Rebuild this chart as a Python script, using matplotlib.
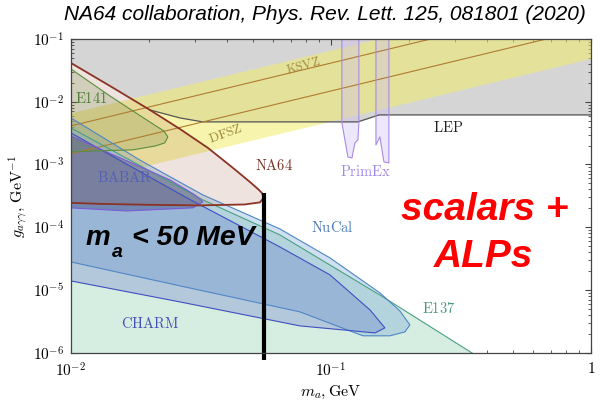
import math
import matplotlib
matplotlib.use("Agg")
import matplotlib.pyplot as plt
from matplotlib.ticker import LogLocator, FuncFormatter, NullFormatter

plt.rcParams["mathtext.fontset"] = "cm"
plt.rcParams["font.family"] = ["Liberation Sans", "DejaVu Sans"]

# ---------------- data: mass in GeV, coupling in GeV^-1 ----------------
axion_mass = [0.01, 1.0]
band_upper = [6.64e-3, 0.664]
band_lower = [4.91e-4, 0.0491]
ksvz_g = [4.12e-3, 0.412]
dfsz_g = [1.48e-3, 0.148]

lep_mass = [0.0100, 0.01413, 0.02013, 0.02298, 0.02624, 0.03219, 0.1270, 0.1531, 1.0]
lep_g = [0.0415, 0.01785, 7.40e-3, 6.39e-3, 5.52e-3, 4.77e-3, 4.77e-3, 6.16e-3, 6.16e-3]

na64_mass = [0.0100, 0.01413, 0.02013, 0.02624, 0.03365, 0.04200, 0.04880, 0.05236,
             0.05427, 0.05524, 0.05331, 0.04668, 0.03133, 0.02013, 0.01294, 0.0100]
na64_g = [0.0415, 0.01785, 7.40e-3, 3.69e-3, 1.84e-3, 8.83e-4, 5.28e-4, 4.09e-4,
          3.53e-4, 2.94e-4, 2.49e-4, 2.31e-4, 2.23e-4, 2.28e-4, 2.36e-4, 2.45e-4]

e141_mass = [0.0100, 0.01413, 0.01731, 0.02123, 0.02279, 0.02361, 0.02298, 0.02123,
             0.01731, 0.01294, 0.0100]
e141_g = [0.0333, 0.01237, 7.14e-3, 4.12e-3, 3.43e-3, 2.75e-3, 2.21e-3, 1.98e-3,
          1.71e-3, 1.65e-3, 1.59e-3]

babar_mass = [0.0100, 0.02402, 0.02999, 0.03219, 0.02946, 0.01642, 0.0100]
babar_g = [2.85e-3, 5.69e-4, 3.28e-4, 2.54e-4, 2.04e-4, 1.82e-4, 2.04e-4]

nucal_mass = [0.0100, 0.01841, 0.03219, 0.06363, 0.09912, 0.1543, 0.1841, 0.2013,
              0.1926, 0.1687, 0.1328, 0.07598, 0.02624, 0.0100]
nucal_g = [5.52e-3, 1.18e-3, 3.28e-4, 9.43e-5, 3.26e-5, 9.03e-6, 4.66e-6, 2.79e-6,
           2.16e-6, 1.87e-6, 1.87e-6, 4.50e-6, 1.17e-5, 2.81e-5]

charm_mass = [0.0100, 0.02793, 0.06363, 0.09912, 0.1413, 0.1613, 0.1477, 0.07598,
              0.02624, 0.0100]
charm_g = [3.19e-3, 2.94e-4, 4.87e-5, 1.75e-5, 4.84e-6, 2.50e-6, 2.08e-6, 2.69e-6,
           6.49e-6, 1.40e-5]

e137_mass = [0.0100, 0.03219, 0.06363, 0.1585, 0.3484, 0.384]
e137_g = [3.83e-3, 2.73e-4, 7.57e-5, 7.79e-6, 1.0e-6, 7.7e-7]

primex1_mass = [0.1102, 0.1102, 0.1132, 0.1162, 0.1205, 0.1237, 0.1270, 0.1281, 0.1281]
primex1_g = [0.1, 4.60e-3, 2.46e-3, 1.32e-3, 1.27e-3, 2.21e-3, 2.46e-3, 4.60e-3, 0.1]
primex2_mass = [0.1490, 0.1490, 0.1543, 0.1599, 0.1671, 0.1671]
primex2_g = [0.1, 2.05e-3, 2.75e-3, 1.10e-3, 1.06e-3, 0.1]

mass_cut = 0.0555
mass_cut_g = [3.5e-4, 7.7e-7]

# ---------------- figure ----------------
fig = plt.figure(figsize=(6.0, 4.01), dpi=100)
ax = fig.add_axes([0.118, 0.120, 0.867, 0.783])
ax.set_xscale("log")
ax.set_yscale("log")
ax.set_xlim(0.01, 1.0)
ax.set_ylim(1e-6, 0.1)

# LEP (grey, everything above the boundary)
ax.fill_between(lep_mass, lep_g, 0.2, color="#d5d5d5", lw=0, zorder=1)
ax.plot(lep_mass[2:], lep_g[2:], color="#555555", lw=0.9, zorder=6)

# QCD axion band
ax.fill_between(axion_mass, band_lower, band_upper, color="#f2ee6a", alpha=0.55,
                lw=0, zorder=2)
ax.plot(axion_mass, ksvz_g, color="#b07a30", lw=0.8, zorder=7)
ax.plot(axion_mass, dfsz_g, color="#b07a30", lw=0.8, zorder=7)

# beam dumps
ax.fill_between(e137_mass, e137_g, 1e-7, color="#d6ede2", lw=0, zorder=3)
ax.plot(e137_mass, e137_g, color="#4a9f82", lw=0.8, zorder=8)
ax.fill(nucal_mass, nucal_g, facecolor="#6aa2d2", alpha=0.32, lw=0, zorder=3.2)
ax.fill(nucal_mass, nucal_g, facecolor="none", edgecolor="#4f86c6", lw=0.8, zorder=8)
ax.fill(charm_mass, charm_g, facecolor="#5a6ac8", alpha=0.28, lw=0, zorder=3.4)
ax.fill(charm_mass, charm_g, facecolor="none", edgecolor="#3f4fc0", lw=0.8, zorder=8)

# BABAR
ax.fill(babar_mass, babar_g, facecolor="#3a4684", alpha=0.42, lw=0, zorder=3.6)
ax.fill(babar_mass, babar_g, facecolor="none", edgecolor="#7a5ad8", lw=0.8, zorder=8)

# E141
ax.fill(e141_mass, e141_g, facecolor="#5d8f3c", alpha=0.22, lw=0, zorder=3.8)
ax.plot(e141_mass, e141_g, color="#5a8f3f", lw=0.8, zorder=8)

# NA64
ax.fill(na64_mass, na64_g, facecolor="#a05a40", alpha=0.17, lw=0, zorder=4)
ax.plot(na64_mass, na64_g, color="#8b3325", lw=1.3, zorder=9)

# PrimEx
for pm, pg in ((primex1_mass, primex1_g), (primex2_mass, primex2_g)):
    ax.fill(pm, pg, facecolor="#cdbbf7", alpha=0.35, lw=0, zorder=5)
    ax.plot(pm, pg, color="#a88be6", lw=0.8, zorder=8)

# mass cut
ax.plot([mass_cut, mass_cut], mass_cut_g, color="black", lw=3.0, zorder=12,
        clip_on=False, solid_capstyle="butt")

# labels of the constraints
lab = dict(fontsize=10.5, ha="center", va="center", zorder=11)
ax.text(0.0780, 0.0372, r"$\mathrm{KSVZ}$", color="#9f8a3c", rotation=16, fontsize=9,
        ha="center", va="center", zorder=11)
ax.text(0.0395, 3.07e-3, r"$\mathrm{DFSZ}$", color="#9f8a3c", rotation=20, fontsize=9.5,
        ha="center", va="center", zorder=11)
ax.text(0.01194, 0.0111, r"$\mathrm{E141}$", color="#4f7f36", **lab)
ax.text(0.0604, 9.5e-4, r"$\mathrm{NA64}$", color="#7a3526", **lab)
ax.text(0.282, 3.83e-3, r"$\mathrm{LEP}$", color="#222222", **lab)
ax.text(0.1364, 7.62e-4, r"$\mathrm{PrimEx}$", color="#a08ae6", **lab)
ax.text(0.01613, 6.12e-4, r"$\mathrm{BABAR}$", color="#5560b5", **lab)
ax.text(0.101, 9.78e-5, r"$\mathrm{NuCal}$", color="#4a7ab4", **lab)
ax.text(0.2603, 5.02e-6, r"$\mathrm{E137}$", color="#4a9a7a", **lab)
ax.text(0.02013, 2.90e-6, r"$\mathrm{CHARM}$", color="#4550b8", **lab)

# annotations
big = dict(fontweight="bold", fontstyle="italic", color="black", va="baseline",
           ha="left", transform=ax.transAxes, zorder=13)
ax.text(0.029, 0.344, "m", fontsize=20, **big)
ax.text(0.079, 0.306, "a", fontsize=14, **big)
ax.text(0.117, 0.344, "< 50 MeV", fontsize=20.5, **big)

red = dict(fontweight="bold", fontstyle="italic", color="#ff0000", va="baseline",
           ha="center", transform=ax.transAxes, fontsize=28, zorder=13)
ax.text(0.796, 0.424, "scalars +", **red)
ax.text(0.794, 0.274, "ALPs", **red)

fig.text(0.542, 0.963, "NA64 collaboration, Phys. Rev. Lett. 125, 081801 (2020)",
         ha="center", va="center", fontsize=15, fontstyle="italic", color="black")


# axes styling
def log_label(v, pos):
    e = int(round(math.log10(v)))
    return r"$1$" if e == 0 else r"$10^{%d}$" % e


for axis in (ax.xaxis, ax.yaxis):
    axis.set_major_locator(LogLocator(base=10, numticks=10))
    axis.set_minor_locator(LogLocator(base=10, subs=range(2, 10), numticks=20))
    axis.set_major_formatter(FuncFormatter(log_label))
    axis.set_minor_formatter(NullFormatter())
ax.tick_params(which="both", direction="in", top=True, right=True, colors="#444444",
               labelcolor="black", labelsize=11)
ax.tick_params(which="major", length=4.5, width=0.8)
ax.tick_params(which="minor", length=2.5, width=0.6)
ax.tick_params(axis="x", which="major", pad=6)
ax.tick_params(axis="y", which="major", pad=5)
for s in ax.spines.values():
    s.set_color("#444444")
    s.set_linewidth(0.9)
    s.set_zorder(14)

ax.set_xlabel(r"$m_a, \mathrm{GeV}$", fontsize=11.5, labelpad=3)
ax.set_ylabel(r"$g_{a\gamma\gamma},\, \mathrm{GeV}^{-1}$", fontsize=11.5, labelpad=2)

fig.savefig("out.png", dpi=100)
